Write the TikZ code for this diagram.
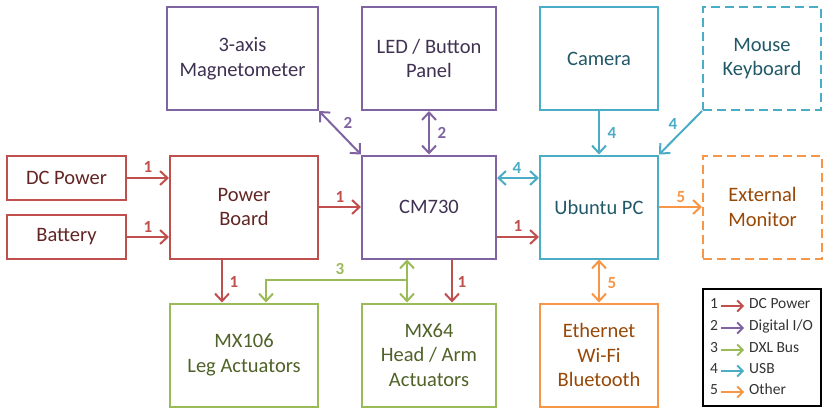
\documentclass[tikz,border=0pt]{standalone}
\usepackage{fontspec}
\setmainfont{Carlito}
\usetikzlibrary{arrows.meta,calc}
\definecolor{cred}{HTML}{C0504D}
\definecolor{cpur}{HTML}{8064A2}
\definecolor{cgrn}{HTML}{9BBB59}
\definecolor{cblu}{HTML}{4BACC6}
\definecolor{corg}{HTML}{F79646}
\definecolor{tred}{HTML}{632523}
\definecolor{tpur}{HTML}{3F3151}
\definecolor{tgrn}{HTML}{4F6228}
\definecolor{tblu}{HTML}{215968}
\definecolor{torg}{HTML}{984807}
\definecolor{tgry}{HTML}{333333}
\begin{document}
\begin{tikzpicture}[x=1pt,y=-1pt,
  box/.style={draw, line width=2pt, inner sep=2pt, align=center,
    font=\fontsize{20.5}{24.5}\selectfont},
  sz/.style 2 args={minimum width=#1pt, minimum height=#2pt},
  dsh/.style={dash pattern=on 9pt off 5pt},
  >={Straight Barb[length=7.5pt,width=14pt]},
  conn/.style={line width=2pt, #1},
  lab/.style={font=\fontsize{17}{17}\bfseries\selectfont, inner sep=0pt},
  legnum/.style={font=\fontsize{15.5}{15.5}\selectfont, text=tgry, inner sep=0pt, text height=1.4ex, text depth=0.2ex, anchor=center},
  legtxt/.style={font=\fontsize{15.5}{15.5}\selectfont, text=tgry, inner sep=0pt, text height=1.4ex, text depth=0.2ex, anchor=west},
  legarr/.style={line width=1.8pt, #1, -{Straight Barb[length=5.5pt,width=11pt]}, shorten <=3pt, shorten >=5pt}
]
\useasboundingbox (0,0) rectangle (829,415);
% top row
\node[box, sz={151}{103}, cpur, text=tpur] (mag) at (242.5,58.5) {3-axis\\Magnetometer};
\node[box, sz={134}{103}, cpur, text=tpur] (led) at (429,58.5) {LED / Button\\Panel};
\node[box, sz={118}{103}, cblu, text=tblu] (cam) at (599,58.5) {Camera};
\node[box, sz={118}{103}, cblu, text=tblu, dsh] (mouse) at (762,58.5) {Mouse\\Keyboard};
% middle row
\node[box, sz={119}{44}, cred, text=tred] (dc) at (66.5,178) {DC Power};
\node[box, sz={119}{44}, cred, text=tred] (bat) at (66.5,237) {Battery};
\node[box, sz={148}{103}, cred, text=tred] (pb) at (244,207) {Power\\Board};
\node[box, sz={134}{103}, cpur, text=tpur] (cm) at (429,207) {CM730};
\node[box, sz={118}{103}, cblu, text=tblu] (pc) at (599,207) {Ubuntu PC};
\node[box, sz={119}{103}, corg, text=torg, dsh] (mon) at (762.5,207) {External\\Monitor};
% bottom row
\node[box, sz={148}{103}, cgrn, text=tgrn] (mx106) at (244,355) {MX106\\Leg Actuators};
\node[box, sz={134}{103}, cgrn, text=tgrn] (mx64) at (429,355) {MX64\\Head / Arm\\Actuators};
\node[box, sz={118}{103}, corg, text=torg] (eth) at (599,355) {Ethernet\\Wi-Fi\\Bluetooth};
% legend
\node[draw=black, line width=1.2pt, minimum width=118pt, minimum height=117pt, inner sep=0pt] (leg) at (762,347.5) {};

% connectors
\draw[conn=cred, ->] (dc.east) -- (dc.east -| pb.west);
\draw[conn=cred, ->] (bat.east) -- (bat.east -| pb.west);
\draw[conn=cred, ->] (pb.east) -- (cm.west);
\draw[conn=cred, ->] ($(cm.east)+(0,30)$) -- ($(pc.west)+(0,30)$);
\draw[conn=cblu, <->] ($(cm.east)+(0,-29)$) -- ($(pc.west)+(0,-29)$);
\draw[conn=corg, ->] (pc.east) -- (mon.west);
\draw[conn=cblu, ->] (cam.south) -- (pc.north);
\draw[conn=cblu, ->] (mouse.south west) -- (pc.north east);
\draw[conn=cpur, <->] (mag.south east) -- (cm.north west);
\draw[conn=cpur, <->] (led.south) -- (cm.north);
\draw[conn=corg, <->] (pc.south) -- (eth.north);
\draw[conn=cred, ->] ($(pb.south)+(-22,0)$) -- ($(mx106.north)+(-22,0)$);
\draw[conn=cred, ->] ($(cm.south)+(23,0)$) -- ($(mx64.north)+(23,0)$);
\draw[conn=cgrn, <->] ($(cm.south)+(-22,0)$) -- ($(mx64.north)+(-22,0)$);
\coordinate (dxl) at ($(cm.south)+(-22,20)$);
\draw[conn=cgrn, ->] (dxl) -| ($(mx106.north)+(22,0)$);

% labels
\node[lab, text=cred] at (148,167) {1};
\node[lab, text=cred] at (148,227) {1};
\node[lab, text=cred] at (340,197) {1};
\node[lab, text=cred] at (518,226) {1};
\node[lab, text=cblu] at (517,168) {4};
\node[lab, text=cpur] at (348,123) {2};
\node[lab, text=cpur] at (442,133) {2};
\node[lab, text=cblu] at (612,133) {4};
\node[lab, text=cblu] at (673,124) {4};
\node[lab, text=corg] at (681,197) {5};
\node[lab, text=corg] at (612,283) {5};
\node[lab, text=cred] at (234,282) {1};
\node[lab, text=cgrn] at (340,269) {3};
\node[lab, text=cred] at (462,282) {1};

% legend rows
\node[legnum] (n1) at (714,306) {1};
\node[legtxt] (t1) at (749,306) {DC Power};
\node[legnum] (n2) at (714,328) {2};
\node[legtxt] (t2) at (749,328) {Digital I/O};
\node[legnum] (n3) at (714,350) {3};
\node[legtxt] (t3) at (749,350) {DXL Bus};
\node[legnum] (n4) at (714,371) {4};
\node[legtxt] (t4) at (749,371) {USB};
\node[legnum] (n5) at (714,392) {5};
\node[legtxt] (t5) at (749,392) {Other};
\draw[legarr=cred] (n1.east) -- (t1.west);
\draw[legarr=cpur] (n2.east) -- (t2.west);
\draw[legarr=cgrn] (n3.east) -- (t3.west);
\draw[legarr=cblu] (n4.east) -- (t4.west);
\draw[legarr=corg] (n5.east) -- (t5.west);
\end{tikzpicture}
\end{document}
